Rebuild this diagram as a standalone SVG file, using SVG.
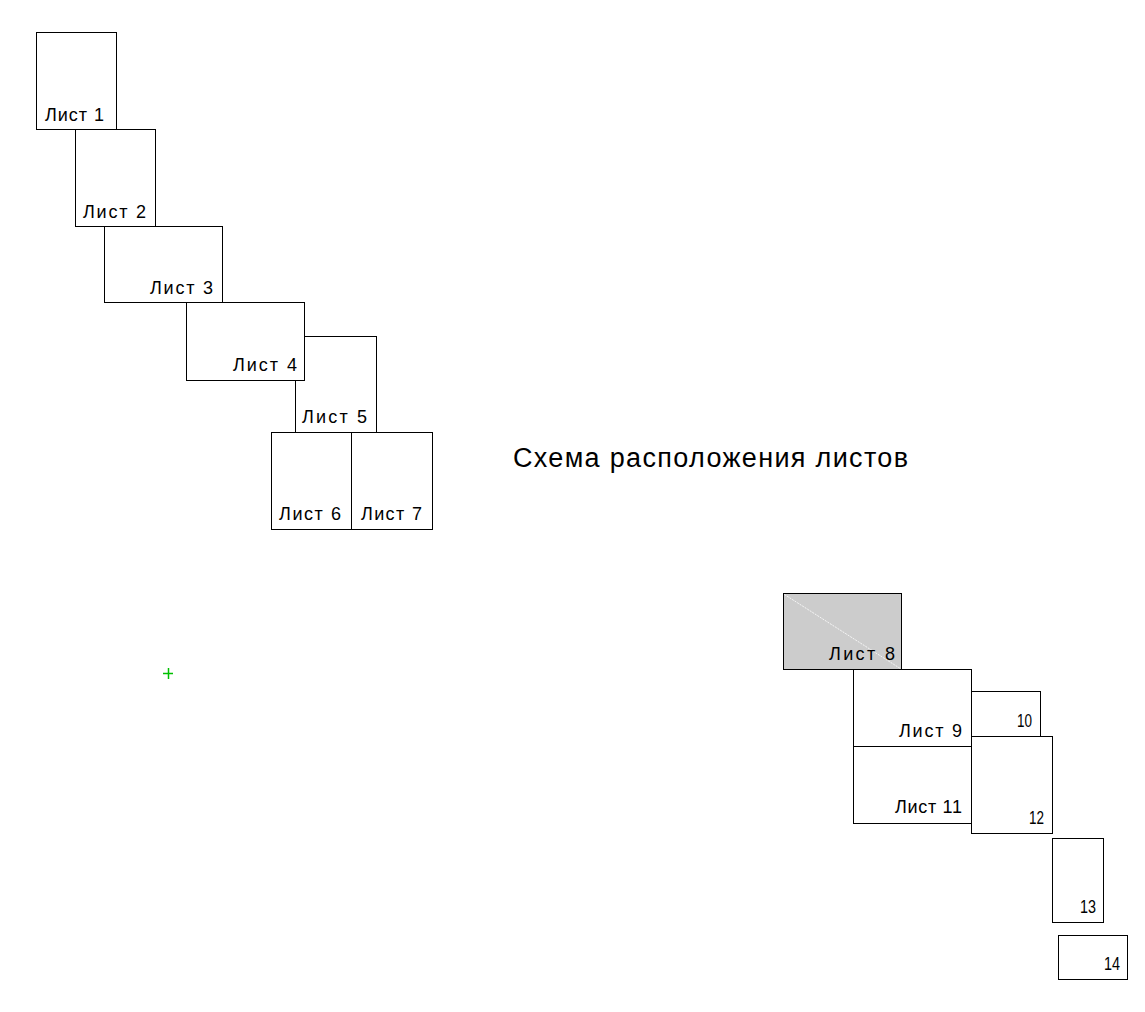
<svg xmlns="http://www.w3.org/2000/svg" width="1145" height="1012" viewBox="0 0 1145 1012">
<style>
.sheet{fill:#ffffff;stroke:#000000;stroke-width:1}
.shaded{fill:#cccccc;stroke:#000000;stroke-width:1}
.lbl{font-family:"Liberation Sans","DejaVu Sans",sans-serif;font-size:18px;fill:#000000}
.title{font-family:"Liberation Sans","DejaVu Sans",sans-serif;font-size:27px;fill:#000000}
</style>
<rect width="1145" height="1012" fill="#ffffff"/>
<g id="sheet1"><rect class="sheet" x="36.5" y="32.5" width="80" height="97"/><text class="lbl" x="45" y="121" textLength="59" lengthAdjust="spacing">Лист 1</text></g>
<g id="sheet2"><rect class="sheet" x="75.5" y="129.5" width="80" height="97"/><text class="lbl" x="83" y="218" textLength="63" lengthAdjust="spacing">Лист 2</text></g>
<g id="sheet3"><rect class="sheet" x="104.5" y="226.5" width="118" height="76"/><text class="lbl" x="150" y="294" textLength="63" lengthAdjust="spacing">Лист 3</text></g>
<g id="sheet5"><rect class="sheet" x="295.5" y="336.5" width="81" height="96"/><text class="lbl" x="302" y="423" textLength="65" lengthAdjust="spacing">Лист 5</text></g>
<g id="sheet4"><rect class="sheet" x="186.5" y="302.5" width="118" height="78"/><text class="lbl" x="233" y="371" textLength="64" lengthAdjust="spacing">Лист 4</text></g>
<g id="sheet6"><rect class="sheet" x="271.5" y="432.5" width="80" height="97"/><text class="lbl" x="279" y="520" textLength="62" lengthAdjust="spacing">Лист 6</text></g>
<g id="sheet7"><rect class="sheet" x="351.5" y="432.5" width="81" height="97"/><text class="lbl" x="361" y="520" textLength="61" lengthAdjust="spacing">Лист 7</text></g>
<g id="title"><text class="title" x="513" y="467" textLength="395" lengthAdjust="spacing">Схема расположения листов</text></g>
<g id="sheet8"><rect class="shaded" x="783.5" y="593.5" width="118" height="76"/><line x1="784.5" y1="594.5" x2="901" y2="669" stroke="#ffffff" stroke-width="0.8" stroke-dasharray="2,1"/><text class="lbl" x="829" y="660" textLength="66" lengthAdjust="spacing">Лист 8</text></g>
<g id="sheet9"><rect class="sheet" x="853.5" y="669.5" width="118" height="77"/><text class="lbl" x="899" y="737" textLength="63" lengthAdjust="spacing">Лист 9</text></g>
<g id="sheet11"><rect class="sheet" x="853.5" y="746.5" width="118" height="77"/><text class="lbl" x="895" y="813" textLength="67" lengthAdjust="spacing">Лист 11</text></g>
<g id="sheet10"><rect class="sheet" x="971.5" y="691.5" width="69" height="45"/><text class="lbl" x="1017" y="727" textLength="15" lengthAdjust="spacingAndGlyphs">10</text></g>
<g id="sheet12"><rect class="sheet" x="971.5" y="736.5" width="81" height="97"/><text class="lbl" x="1029" y="824" textLength="15" lengthAdjust="spacingAndGlyphs">12</text></g>
<g id="sheet13"><rect class="sheet" x="1052.5" y="838.5" width="51" height="84"/><text class="lbl" x="1080" y="913" textLength="16" lengthAdjust="spacingAndGlyphs">13</text></g>
<g id="sheet14"><rect class="sheet" x="1058.5" y="935.5" width="69" height="44"/><text class="lbl" x="1104" y="970" textLength="16" lengthAdjust="spacingAndGlyphs">14</text></g>
<g id="marker"><path d="M163,673.5 H173 M168.5,668 V679" stroke="#00c000" stroke-width="1.5" fill="none"/></g>
<g id="connectors"></g>
</svg>
